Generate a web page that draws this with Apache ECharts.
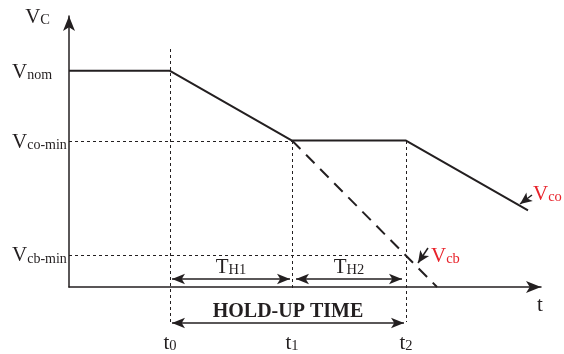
<!DOCTYPE html>
<html>
<head>
<meta charset="utf-8">
<script src="https://cdn.jsdelivr.net/npm/echarts@6/dist/echarts.min.js"></script>
<style>
  html, body { margin: 0; padding: 0; background: #fff; }
  #chart { width: 564px; height: 354px; }
</style>
</head>
<body>
<div id="chart"></div>
<script>
// hold-up time diagram, units are arbitrary (time vs capacitor voltage)
var vcoT = [0, 101, 223, 337, 459];
var vcoV = [217, 217, 147, 147, 77];
var vcbT = [223, 368];
var vcbV = [147, 0];

var levelValues = [217, 147, 33];
var levelSubs = ['nom', 'co-min', 'cb-min'];
var timeValues = [101, 223, 337];
var timeSubs = ['0', '1', '2'];

var INK = '#231f20';
var RED = '#e8232b';
var SERIF = '"Liberation Serif", "DejaVu Serif", serif';

function pairs(xs, ys) {
  return xs.map(function (x, i) { return [x, ys[i]]; });
}

// rich styles for "V" with a subscript
function subRich(color) {
  return {
    m: { fontFamily: SERIF, fontSize: 21, color: color, lineHeight: 24, verticalAlign: 'bottom' },
    s: { fontFamily: SERIF, fontSize: 14.5, color: color, lineHeight: 17, verticalAlign: 'bottom' }
  };
}

var guide = { color: INK, width: 1, type: [3, 3] };
var arrowLine = { color: INK, width: 1.5, type: 'solid' };

function dimLine(x1, x2, y, label) {
  return [
    { coord: [x1, y], lineStyle: arrowLine, label: label },
    { coord: [x2, y] }
  ];
}

var chart = echarts.init(document.getElementById('chart'));

var t0 = timeValues[0], t1 = timeValues[1], t2 = timeValues[2];
var vCo = levelValues[1], vCb = levelValues[2];

var hidden = { show: false };

chart.setOption({
  animation: false,
  grid: [
    { left: 69, top: 16, width: 472, height: 272 },
    // overlay grid, same scale, reaching below the t axis
    { left: 69, top: 16, width: 472, height: 338 }
  ],
  xAxis: [{
    type: 'value', min: 0, max: 472,
    splitLine: { show: false },
    axisTick: { show: false },
    axisLine: { lineStyle: { color: INK, width: 1.5 }, symbol: ['none', 'arrow'], symbolSize: [9, 15] },
    axisLabel: {
      customValues: timeValues,
      margin: 43,
      formatter: function (v) {
        return '{m|t}{s|' + timeSubs[timeValues.indexOf(v)] + '}';
      },
      rich: subRich(INK)
    },
    name: 't', nameLocation: 'end', nameGap: -1,
    nameTextStyle: { fontFamily: SERIF, fontSize: 21, color: INK, align: 'center', verticalAlign: 'top', padding: [8, 0, 0, 0] }
  }, {
    gridIndex: 1, type: 'value', min: 0, max: 472,
    axisLine: hidden, axisTick: hidden, axisLabel: hidden, splitLine: hidden
  }],
  yAxis: [{
    type: 'value', min: 0, max: 272,
    splitLine: { show: false },
    axisTick: { show: false },
    axisLine: { lineStyle: { color: INK, width: 1.5 }, symbol: ['none', 'arrow'], symbolSize: [9, 15] },
    axisLabel: {
      customValues: levelValues,
      margin: 57,
      align: 'left',
      formatter: function (v) {
        return '{m|V}{s|' + levelSubs[levelValues.indexOf(v)] + '}';
      },
      rich: {
        m: { fontFamily: SERIF, fontSize: 21, color: INK, lineHeight: 24, verticalAlign: 'bottom' },
        s: { fontFamily: SERIF, fontSize: 14, color: INK, lineHeight: 17, verticalAlign: 'bottom' }
      }
    },
    name: '{m|V}{s|C}', nameLocation: 'end', nameGap: 0,
    nameTextStyle: { align: 'right', verticalAlign: 'middle', padding: [0, 19, 0, 0], rich: subRich(INK) }
  }, {
    gridIndex: 1, type: 'value', min: -66, max: 272,
    axisLine: hidden, axisTick: hidden, axisLabel: hidden, splitLine: hidden
  }],
  series: [
    {
      type: 'line', data: pairs(vcoT, vcoV), symbol: 'none', clip: false, z: 5,
      lineStyle: { color: INK, width: 2 }
    },
    {
      type: 'line', data: pairs(vcbT, vcbV), symbol: 'none', clip: false, z: 4,
      lineStyle: { color: INK, width: 2, type: [12, 8] }
    },
    {
      // guides and curve call-outs
      type: 'line', xAxisIndex: 1, yAxisIndex: 1, data: [], symbol: 'none',
      markLine: {
        silent: true, symbol: ['none', 'none'], label: { show: false },
        data: [
          [{ coord: [0, vCo], lineStyle: guide }, { coord: [t1, vCo] }],
          [{ coord: [0, vCb], lineStyle: guide }, { coord: [t2, vCb] }],
          [{ coord: [t0, 239], lineStyle: guide }, { coord: [t0, -34] }],
          [{ coord: [t1, vCo], lineStyle: guide }, { coord: [t1, 0] }],
          [{ coord: [t2, vCo], lineStyle: guide }, { coord: [t2, -34] }]
        ]
      },
      markPoint: {
        symbol: 'circle', symbolSize: 0,
        data: [
          { coord: [464, 95], label: { show: true, position: 'right', distance: 0, formatter: '{m|V}{s|co}', rich: subRich(RED) } },
          { coord: [362, 33], label: { show: true, position: 'right', distance: 0, formatter: '{m|V}{s|cb}', rich: subRich(RED) } }
        ]
      }
    },
    {
      // dimension arrows
      type: 'line', xAxisIndex: 1, yAxisIndex: 1, data: [], symbol: 'none',
      markLine: {
        silent: true, symbol: ['arrow', 'arrow'], symbolSize: [8, 13],
        data: [
          dimLine(t0 + 2, t1 - 2, 9, {
            show: true, position: 'insideMiddleTop', distance: 1,
            formatter: '{m|T}{s|H1}', rich: subRich(INK)
          }),
          dimLine(t1 + 4, t2 - 4, 9, {
            show: true, position: 'insideMiddleTop', distance: 1,
            formatter: '{m|T}{s|H2}', rich: subRich(INK)
          }),
          dimLine(t0 + 2, t2 - 2, -35, {
            show: true, position: 'insideMiddleTop', distance: 1,
            formatter: 'HOLD-UP TIME',
            fontFamily: SERIF, fontSize: 20, fontWeight: 'bold', color: INK
          })
        ]
      }
    },
    {
      type: 'line', xAxisIndex: 1, yAxisIndex: 1, data: [], symbol: 'none',
      markLine: {
        silent: true, symbol: ['none', 'arrow'], symbolSize: [8, 12],
        lineStyle: arrowLine, label: { show: false },
        data: [
          [{ coord: [463, 93] }, { coord: [451, 84] }],
          [{ coord: [359, 40] }, { coord: [349, 25] }]
        ]
      }
    }
  ]
});
</script>
</body>
</html>
